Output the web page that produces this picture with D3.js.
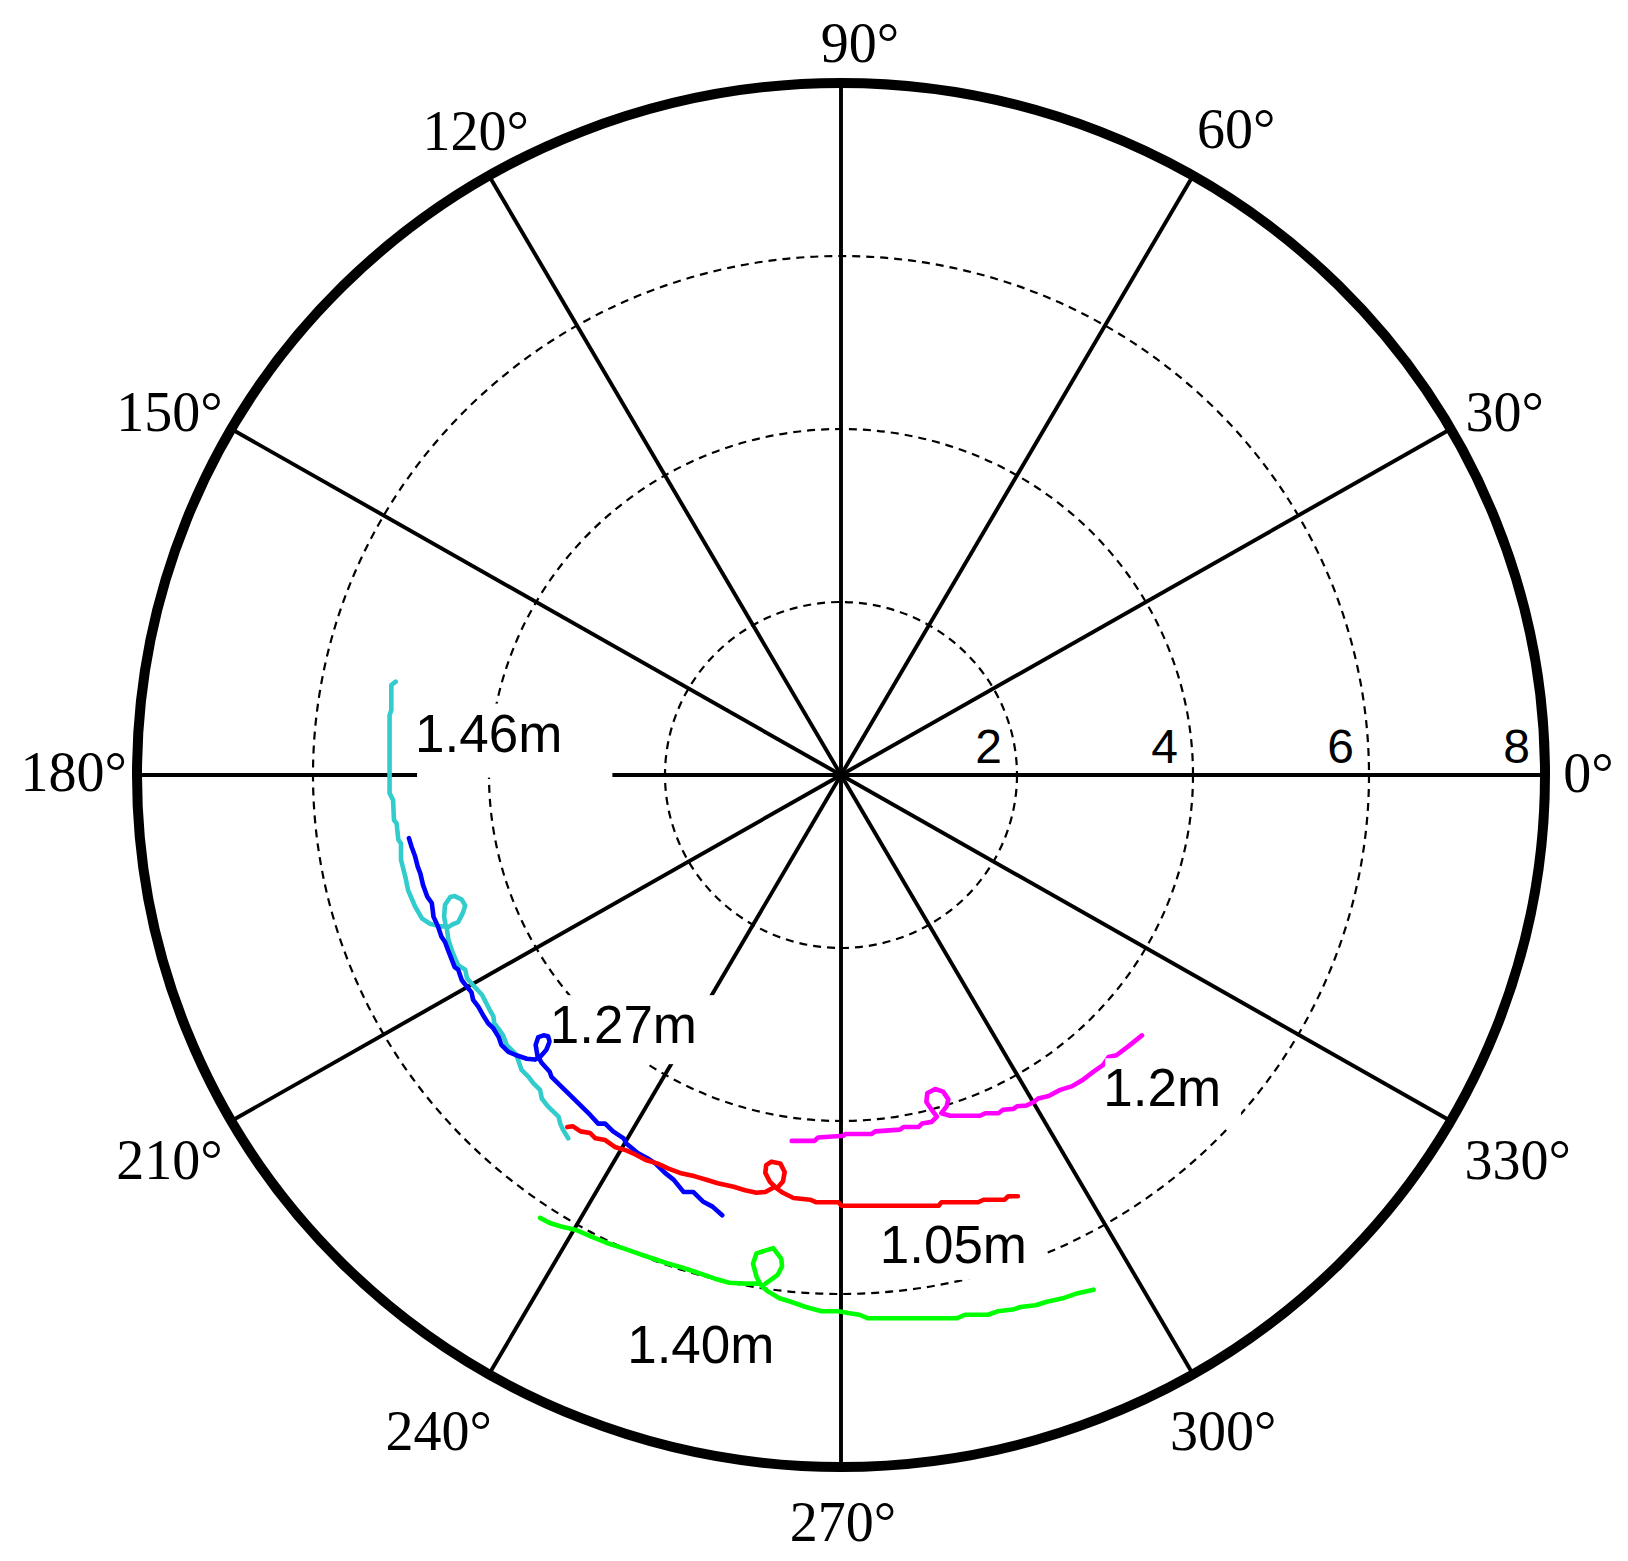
<!DOCTYPE html>
<html>
<head>
<meta charset="utf-8">
<script src="https://cdn.jsdelivr.net/npm/d3@7"></script>
<style>
  html, body { margin: 0; padding: 0; background: #fff; }
  svg { display: block; }
</style>
</head>
<body>
<script>
// ---------------- DATA ----------------
const angleTicks = [0, 30, 60, 90, 120, 150, 180, 210, 240, 270, 300, 330];
const angleTickLabels = ["0°","30°","60°","90°","120°","150°","180°","210°","240°","270°","300°","330°"];
const radialTicks = [2, 4, 6, 8];
const radialTickLabels = ["2", "4", "6", "8"];
const rMax = 8;

// trajectories, cartesian coordinates in radial-axis units [x, y]
const cyanTrack = [[-5.06,1.08],[-5.11,1.04],[-5.11,0.75],[-5.13,0.69],[-5.13,0],[-5.13,-0.21],[-5.09,-0.29],[-5.08,-0.52],[-5.05,-0.56],[-5.03,-0.75],[-5.00,-0.79],[-5.00,-0.98],[-4.95,-1.18],[-4.92,-1.33],[-4.84,-1.52],[-4.76,-1.66],[-4.67,-1.72],[-4.56,-1.75],[-4.49,-1.75],[-4.51,-1.64],[-4.50,-1.50],[-4.44,-1.41],[-4.39,-1.40],[-4.31,-1.44],[-4.27,-1.51],[-4.30,-1.60],[-4.35,-1.70],[-4.42,-1.73],[-4.48,-1.77],[-4.46,-1.91],[-4.41,-2.06],[-4.35,-2.20],[-4.27,-2.25],[-4.25,-2.35],[-4.18,-2.43],[-4.08,-2.54],[-4.05,-2.60],[-3.99,-2.72],[-3.95,-2.79],[-3.94,-2.87],[-3.88,-2.95],[-3.84,-3.01],[-3.80,-3.12],[-3.70,-3.22],[-3.67,-3.29],[-3.63,-3.41],[-3.55,-3.49],[-3.50,-3.56],[-3.42,-3.64],[-3.40,-3.74],[-3.34,-3.82],[-3.31,-3.85],[-3.21,-3.95],[-3.19,-4.03],[-3.16,-4.10],[-3.10,-4.20]];
const blueTrack = [[-4.91,-0.73],[-4.88,-0.83],[-4.84,-0.94],[-4.81,-1.06],[-4.78,-1.14],[-4.75,-1.27],[-4.70,-1.41],[-4.65,-1.48],[-4.63,-1.64],[-4.58,-1.75],[-4.54,-1.87],[-4.50,-1.93],[-4.46,-2.04],[-4.39,-2.22],[-4.35,-2.25],[-4.31,-2.37],[-4.25,-2.45],[-4.20,-2.51],[-4.18,-2.60],[-4.12,-2.68],[-4.06,-2.79],[-4.01,-2.87],[-3.95,-2.93],[-3.89,-3.03],[-3.86,-3.12],[-3.78,-3.20],[-3.69,-3.24],[-3.57,-3.28],[-3.48,-3.29],[-3.42,-3.26],[-3.35,-3.18],[-3.31,-3.08],[-3.33,-3.02],[-3.38,-3.01],[-3.44,-3.03],[-3.47,-3.12],[-3.45,-3.24],[-3.40,-3.33],[-3.31,-3.43],[-3.29,-3.49],[-3.16,-3.62],[-3.00,-3.78],[-2.85,-3.93],[-2.76,-4.03],[-2.68,-4.03],[-2.59,-4.12],[-2.47,-4.20],[-2.44,-4.26],[-2.31,-4.37],[-2.20,-4.43],[-2.11,-4.49],[-2.00,-4.60],[-1.90,-4.68],[-1.79,-4.82],[-1.68,-4.82],[-1.57,-4.93],[-1.46,-4.99],[-1.35,-5.09]];
const redTrack = [[-3.11,-4.07],[-3.05,-4.06],[-2.96,-4.12],[-2.85,-4.14],[-2.79,-4.20],[-2.68,-4.22],[-2.57,-4.30],[-2.44,-4.34],[-2.33,-4.39],[-2.22,-4.45],[-2.09,-4.49],[-1.96,-4.55],[-1.83,-4.60],[-1.66,-4.64],[-1.53,-4.68],[-1.40,-4.72],[-1.22,-4.76],[-1.09,-4.80],[-0.96,-4.83],[-0.86,-4.82],[-0.75,-4.76],[-0.81,-4.70],[-0.86,-4.60],[-0.85,-4.51],[-0.79,-4.47],[-0.69,-4.49],[-0.64,-4.59],[-0.66,-4.70],[-0.73,-4.78],[-0.66,-4.83],[-0.54,-4.89],[-0.35,-4.91],[-0.28,-4.94],[-0.03,-4.94],[0.01,-4.98],[1.11,-4.98],[1.14,-4.94],[1.56,-4.94],[1.62,-4.91],[1.86,-4.91],[1.90,-4.87],[2.01,-4.87]];
const magentaTrack = [[-0.56,-4.23],[-0.30,-4.23],[-0.26,-4.19],[0.03,-4.17],[0.05,-4.15],[0.35,-4.15],[0.39,-4.12],[0.67,-4.10],[0.71,-4.07],[0.88,-4.07],[0.92,-4.03],[1.03,-4.01],[1.09,-3.95],[1.03,-3.87],[0.97,-3.78],[0.98,-3.68],[1.07,-3.63],[1.16,-3.66],[1.22,-3.75],[1.20,-3.83],[1.14,-3.91],[1.24,-3.94],[1.58,-3.94],[1.64,-3.91],[1.79,-3.91],[1.84,-3.87],[1.96,-3.86],[2.00,-3.83],[2.11,-3.82],[2.19,-3.78],[2.24,-3.74],[2.36,-3.71],[2.49,-3.64],[2.62,-3.60],[2.74,-3.53],[2.87,-3.43],[2.98,-3.35],[3.04,-3.26],[3.13,-3.24],[3.26,-3.14],[3.42,-3.01]];
const greenTrack = [[-3.42,-5.12],[-3.31,-5.18],[-3.18,-5.22],[-3.01,-5.26],[-2.83,-5.34],[-2.66,-5.41],[-2.48,-5.47],[-2.31,-5.53],[-2.14,-5.59],[-1.96,-5.65],[-1.79,-5.70],[-1.61,-5.76],[-1.44,-5.82],[-1.27,-5.87],[-1.09,-5.88],[-0.92,-5.88],[-0.96,-5.80],[-1.00,-5.65],[-0.96,-5.53],[-0.77,-5.47],[-0.68,-5.59],[-0.67,-5.68],[-0.72,-5.78],[-0.83,-5.86],[-0.90,-5.91],[-0.83,-5.97],[-0.70,-6.05],[-0.57,-6.09],[-0.40,-6.15],[-0.22,-6.20],[-0.03,-6.20],[0.08,-6.22],[0.21,-6.24],[0.30,-6.28],[1.32,-6.28],[1.41,-6.24],[1.67,-6.24],[1.78,-6.20],[1.95,-6.18],[2.04,-6.15],[2.21,-6.13],[2.34,-6.09],[2.52,-6.05],[2.69,-5.99],[2.87,-5.95]];

const trackColors = ["#33CCCC", "#0000FF", "#FF0000", "#FF00FF", "#00FF00"];

// annotation labels (text, anchor x/y in radial-axis units)
const noteTexts = ["1.46m", "1.27m", "1.40m", "1.05m", "1.2m"];
const noteX = [-4.84, -3.31, -2.43, 0.44, 2.98];
const noteY = [0.27, -3.10, -6.80, -5.64, -3.83];

// ---------------- LAYOUT ----------------
const W = 1628, H = 1561;
const cx = 841, cy = 775, RX = 704, RY = 692;
const notePadRight = [50, 22, 20, 17, 20];
const notePadBottom = [26, 21, 20, 17, 20];
// nudges of the angle labels from the r = 8.8 position (px)
const angleNudge = [[-27,-2],[-7,18],[8,14],[19,30],[22,16],[-1,18],[7,-3],[-1,5],[-15,-3],[2,-14],[-5,-3],[6,5]];

const x = d3.scaleLinear().domain([-rMax, rMax]).range([cx - RX, cx + RX]);
const y = d3.scaleLinear().domain([-rMax, rMax]).range([cy + RY, cy - RY]);
const rad = d => d * Math.PI / 180;

const svg = d3.select("body").append("svg")
  .attr("width", W).attr("height", H)
  .attr("viewBox", `0 0 ${W} ${H}`);

svg.append("rect").attr("width", W).attr("height", H).attr("fill", "#fff");

// dashed rings
svg.append("g").selectAll("ellipse").data(radialTicks.filter(r => r < rMax)).join("ellipse")
  .attr("cx", x(0)).attr("cy", y(0))
  .attr("rx", r => x(r) - x(0)).attr("ry", r => y(0) - y(r))
  .attr("fill", "none").attr("stroke", "#000")
  .attr("stroke-width", 2.2).attr("stroke-dasharray", "8,6");

// spokes
svg.append("g").selectAll("line").data(angleTicks).join("line")
  .attr("x1", x(0)).attr("y1", y(0))
  .attr("x2", a => x(rMax * Math.cos(rad(a))))
  .attr("y2", a => y(rMax * Math.sin(rad(a))))
  .attr("stroke", "#000").attr("stroke-width", 3.9);

// trajectories
const line = d3.line().x(d => x(d[0])).y(d => y(d[1]));
const tracks = [cyanTrack, blueTrack, redTrack, magentaTrack, greenTrack];
svg.append("g").selectAll("path").data(tracks).join("path")
  .attr("d", line)
  .attr("fill", "none")
  .attr("stroke", (d, i) => trackColors[i])
  .attr("stroke-width", 4.6)
  .attr("stroke-linejoin", "round")
  .attr("stroke-linecap", "round");

// annotation labels with white background boxes
const notes = svg.append("g");
noteTexts.forEach((t, i) => {
  const g = notes.append("g");
  const rect = g.append("rect").attr("fill", "#fff");
  const tx = g.append("text")
    .attr("x", x(noteX[i])).attr("y", y(noteY[i]))
    .attr("font-family", "'Liberation Sans', Arial, sans-serif")
    .attr("font-size", 53).attr("fill", "#000")
    .text(t);
  const bb = tx.node().getBBox();
  rect.attr("x", bb.x + 2)
    .attr("y", y(noteY[i]) - 48)
    .attr("width", bb.width - 2 + notePadRight[i])
    .attr("height", 48 + notePadBottom[i]);
});

// radial tick labels along the 0° axis
svg.append("g").selectAll("text").data(radialTicks).join("text")
  .attr("x", r => x(r) - 15)
  .attr("y", y(0) - 12)
  .attr("text-anchor", "end")
  .attr("font-family", "'Liberation Sans', Arial, sans-serif")
  .attr("font-size", 48).attr("fill", "#000")
  .text((r, i) => radialTickLabels[i]);

// outer boundary
svg.append("ellipse")
  .attr("cx", x(0)).attr("cy", y(0))
  .attr("rx", x(rMax) - x(0)).attr("ry", y(0) - y(rMax))
  .attr("fill", "none").attr("stroke", "#000").attr("stroke-width", 10);

// angle labels
svg.append("g").selectAll("text").data(angleTicks).join("text")
  .attr("x", (a, i) => x(rMax * 1.1 * Math.cos(rad(a))) + angleNudge[i][0])
  .attr("y", (a, i) => y(rMax * 1.1 * Math.sin(rad(a))) + angleNudge[i][1] + 18.5)
  .attr("text-anchor", "middle")
  .attr("font-family", "'Liberation Serif', 'Times New Roman', serif")
  .attr("font-size", 56).attr("fill", "#000")
  .text((a, i) => angleTickLabels[i]);
</script>
</body>
</html>
